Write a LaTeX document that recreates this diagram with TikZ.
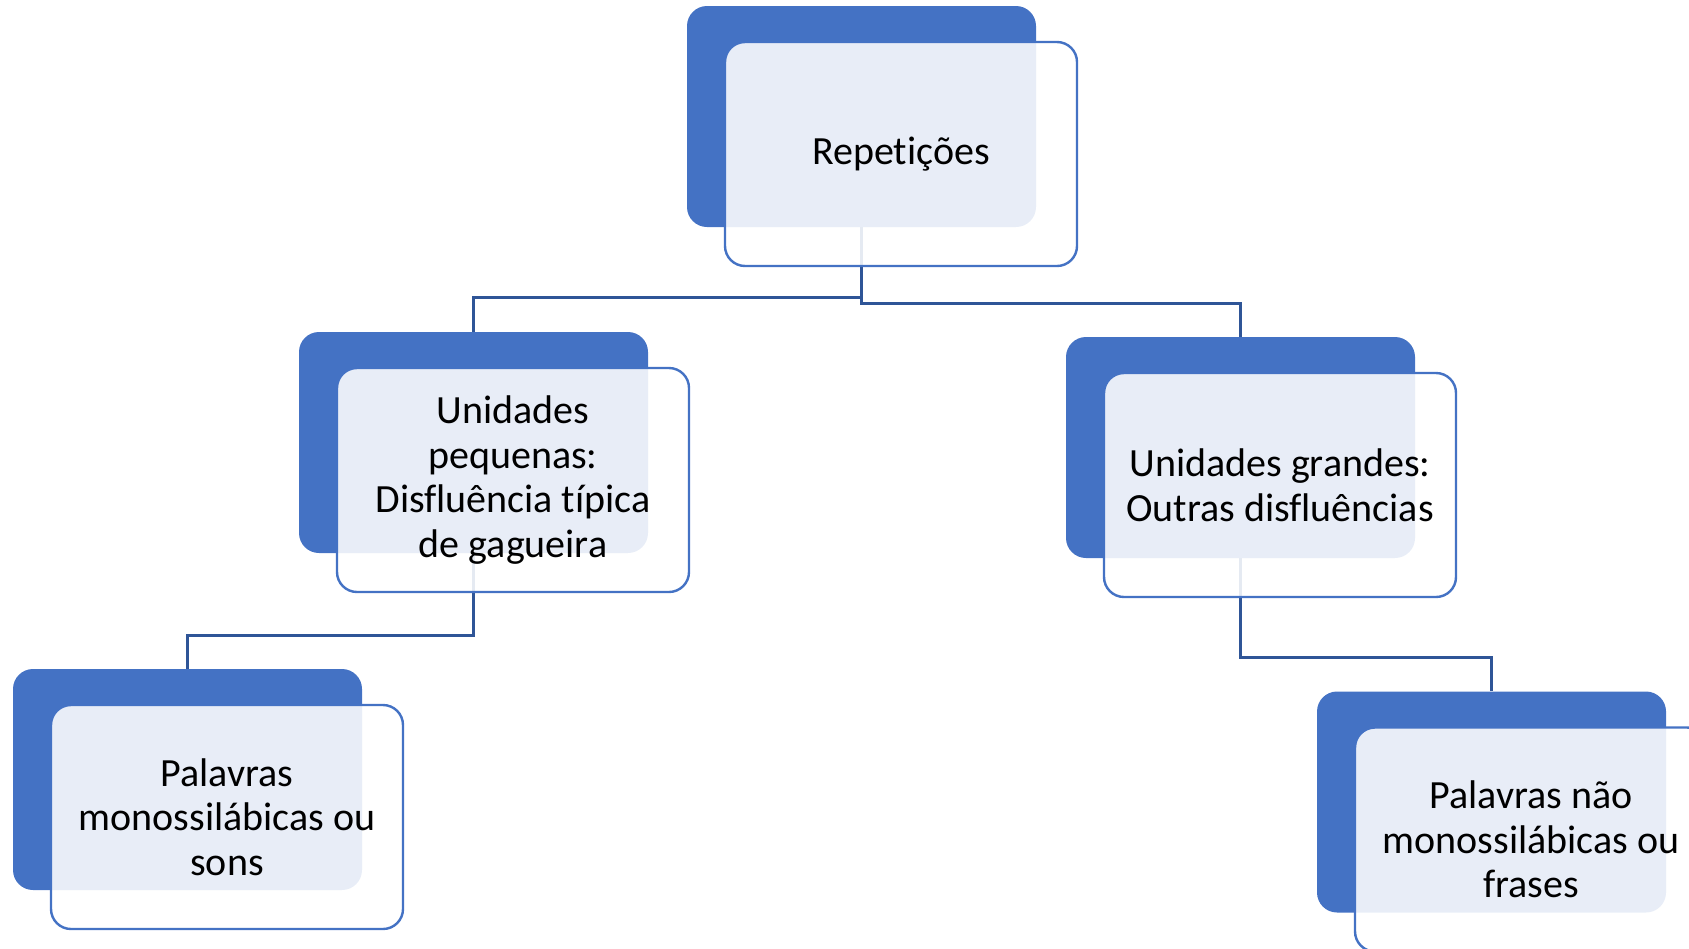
\documentclass[tikz,border=0pt]{standalone}
\usepackage{fontspec}
\setmainfont{Carlito}[Ligatures=NoCommon]
\usepackage{tikz}
\usetikzlibrary{positioning}
\definecolor{accent}{HTML}{4472C4}
\definecolor{linkblue}{HTML}{2F5597}

\begin{document}
\begin{tikzpicture}[on grid,
	back/.style={rectangle, rounded corners=10pt, fill=accent, minimum width=174.5pt, minimum height=110.5pt, inner sep=0pt},
	front/.style={rectangle, rounded corners=10pt, draw=accent, line width=1.2pt, fill=white, fill opacity=0.88, text opacity=1, minimum width=176pt, minimum height=112pt, align=center, font=\fontsize{20}{22.3}\selectfont, inner sep=0pt},
	link/.style={draw=linkblue, line width=1.5pt}]
	\useasboundingbox (0,0) rectangle (844.5pt,-474pt);

	% dark back boxes
	\node[back](rep) at (430.75pt,-58.25pt){};
	\node[back](peq)[below left=163pt and 194pt of rep]{};
	\node[back](gra)[below right=165.5pt and 189.5pt of rep]{};
	\node[back](mono)[below left=168.5pt and 143pt of peq]{};
	\node[back](naomono)[below right=177.25pt and 125.5pt of gra]{};

	% connectors
	\path[link]
	(rep.south) -- ++(0,-35pt) -| (peq.north)
	(rep.south) -- ++(0,-38pt) -| (gra.north)
	(peq.south) -- ++(0,-41pt) -| (mono.north)
	(gra.south) -- ++(0,-49.5pt) -| (naomono.north);

	% light front boxes
	\node[front](rep_t)[below right=18.75pt and 19.75pt of rep]{Repetições};
	\node[front](peq_t)[below right=18.75pt and 19.75pt of peq]{Unidades\\pequenas:\\Disfluência típica\\de gagueira};
	\node[front](gra_t)[below right=18.75pt and 19.75pt of gra]{Unidades grandes:\\Outras disfluências};
	\node[front](mono_t)[below right=18.75pt and 19.75pt of mono]{Palavras\\monossilábicas ou\\sons};
	\node[front](naomono_t)[below right=18.75pt and 19.75pt of naomono]{Palavras não\\monossilábicas ou\\frases};
\end{tikzpicture}
\end{document}
